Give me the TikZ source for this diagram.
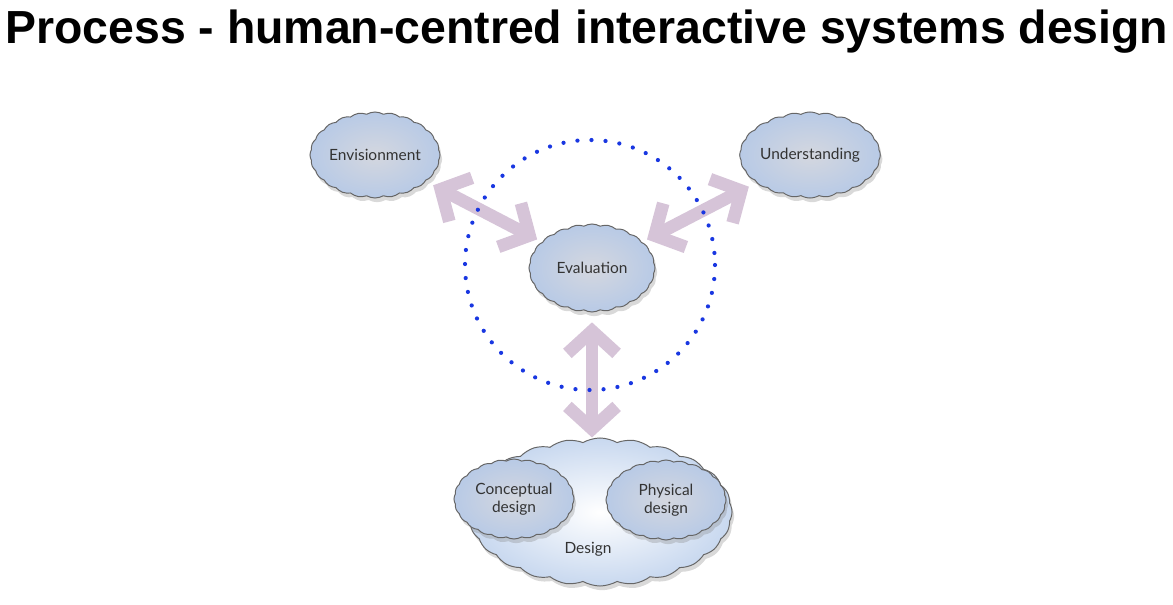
\documentclass[tikz,border=0pt]{standalone}
\usepackage{fontspec}
\setmainfont{Lato}
\newfontfamily\headfont{Liberation Sans}
\usetikzlibrary{shapes.symbols,shadows,arrows.meta}
\definecolor{cloudblue}{RGB}{184,202,230}
\definecolor{cloudcore}{RGB}{212,215,223}
\definecolor{paleblue}{RGB}{200,216,239}
\definecolor{mauve}{RGB}{214,196,216}
\definecolor{dotblue}{RGB}{25,55,225}
\tikzset{
  puff/.style={cloud, cloud puffs=24, cloud puff arc=60, cloud ignores aspect,
    draw=black!60, line width=0.7pt, inner color=cloudcore, outer color=cloudblue,
    drop shadow={opacity=0.3,shadow xshift=1.5pt,shadow yshift=-3pt},
    text=black!80, font=\fontsize{11}{13}\selectfont, align=center, inner sep=0pt},
  twoway/.style={mauve, line width=9pt,
    {Straight Barb[sharp,length=16pt,width=35pt]}-{Straight Barb[sharp,length=16pt,width=35pt]}},
}
\begin{document}
\begin{tikzpicture}[x=0.025cm,y=-0.025cm]
\useasboundingbox (0,0) rectangle (1173,605);
\node[anchor=base west,inner sep=0pt,font=\headfont\fontsize{33}{38}\bfseries] (title) at (5,43) {Process - human-centred interactive systems design};
% design cloud with its two parts
\node[puff, outer color=paleblue, inner color=white, minimum width=6.6cm, minimum height=3.7cm] (design) at (600,512) {};
\node[puff, minimum width=3cm, minimum height=2cm] (concept) at (514,499) {Conceptual\\design};
\node[puff, minimum width=3cm, minimum height=2cm] (physical) at (666,500) {Physical\\design};
\node[text=black!80, font=\fontsize{11}{13}\selectfont] (designlbl) at (588,549) {Design};
% top row
\node[puff, minimum width=3.25cm, minimum height=2.15cm] (envis) at (375,155) {Envisionment};
\node[puff, minimum width=3.25cm, minimum height=2.15cm] (under) at (810,155) {Understanding};
\node[puff, minimum width=3.15cm, minimum height=2.2cm] (eval) at (592,268) {Evaluation};
% arrows
\draw[twoway, shorten <=6pt, shorten >=4pt] (envis) -- (eval);
\draw[twoway, shorten <=6pt, shorten >=4pt] (under) -- (eval);
\draw[twoway, shorten <=7pt] (eval.south) -- (eval.south |- design.north);
% loop
\draw[dotblue, line width=3pt, line cap=round, dash pattern=on 0pt off 10pt] (590,265) circle [radius=125];
\end{tikzpicture}
\end{document}
